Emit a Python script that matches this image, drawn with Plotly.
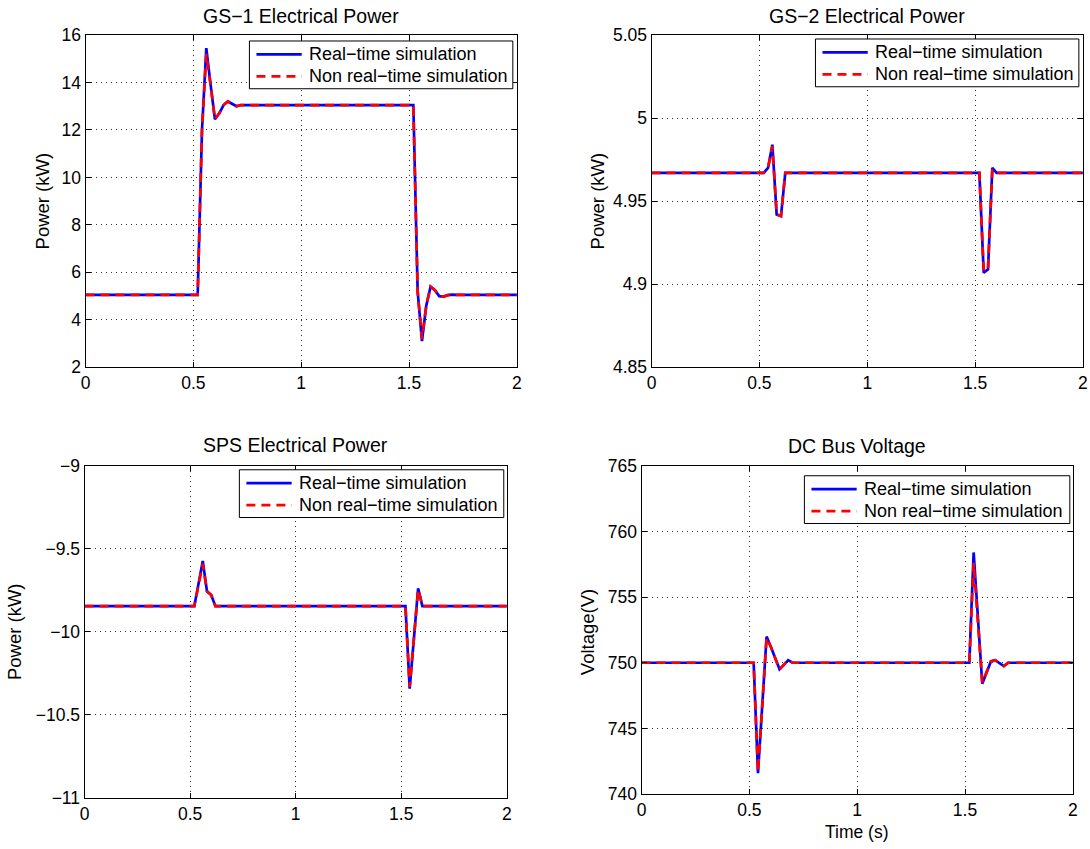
import plotly.graph_objects as go

W, H = 1090, 849
# The rendered page shows the figure slightly shrunk and offset; positions below are
# given in target window pixels and mapped back into figure pixels.
SX, OX = 0.9855, 7.9
SY, OY = 0.9815, 7.85

# ---------------- data ----------------
gs1_t = [0, 0.52, 0.54, 0.56, 0.58, 0.60, 0.62, 0.64, 0.66, 0.68, 0.70, 0.72,
         1.52, 1.54, 1.56, 1.58, 1.60, 1.62, 1.64, 1.66, 1.68, 1.70, 1.72, 2.0]
gs1_rt = [5.05, 5.05, 12.0, 15.45, 13.9, 12.45, 12.7, 13.05, 13.2, 13.1, 13.0, 13.05,
          13.05, 5.2, 3.1, 4.6, 5.4, 5.25, 5.0, 4.98, 5.04, 5.06, 5.05, 5.05]
gs1_nrt = [5.05, 5.05, 12.0, 15.2, 13.9, 12.45, 12.7, 13.05, 13.2, 13.1, 13.0, 13.05,
           13.05, 5.2, 3.2, 4.6, 5.4, 5.25, 5.0, 4.98, 5.04, 5.06, 5.05, 5.05]

gs2_t = [0, 0.52, 0.54, 0.56, 0.58, 0.60, 0.62, 1.52, 1.54, 1.56, 1.58, 1.60, 2.0]
gs2_rt = [4.967, 4.967, 4.970, 4.984, 4.942, 4.941, 4.967,
          4.967, 4.907, 4.909, 4.970, 4.967, 4.967]
gs2_nrt = [4.967, 4.967, 4.970, 4.983, 4.942, 4.941, 4.967,
           4.967, 4.908, 4.909, 4.969, 4.967, 4.967]

sps_t = [0, 0.52, 0.56, 0.58, 0.60, 0.62, 1.52, 1.54, 1.56, 1.58, 1.59, 1.60, 2.0]
sps_rt = [-9.845, -9.845, -9.573, -9.756, -9.778, -9.845,
          -9.845, -10.341, -10.04, -9.738, -9.79, -9.845, -9.845]
sps_nrt = [-9.845, -9.845, -9.59, -9.756, -9.778, -9.845,
           -9.845, -10.33, -10.04, -9.745, -9.79, -9.845, -9.845]

dc_t = [0, 0.52, 0.54, 0.58, 0.60, 0.64, 0.68, 0.70,
        1.52, 1.54, 1.58, 1.62, 1.64, 1.68, 1.70, 2.0]
dc_rt = [750, 750, 741.6, 752.0, 751.2, 749.5, 750.2, 750.0,
         750, 758.4, 748.4, 750.1, 750.2, 749.75, 750, 750]
dc_nrt = [750, 750, 741.7, 751.9, 751.2, 749.5, 750.2, 750.0,
          750, 757.6, 748.5, 750.1, 750.2, 749.75, 750, 750]

x_ticks = [0, 0.5, 1, 1.5, 2]
x_ticktext = ["0", "0.5", "1", "1.5", "2"]
gs1_yticks = [2, 4, 6, 8, 10, 12, 14, 16]
gs2_yticks = [4.85, 4.9, 4.95, 5.0, 5.05]
gs2_yticktext = ["4.85", "4.9", "4.95", "5", "5.05"]
sps_yticks = [-11, -10.5, -10, -9.5, -9]
sps_yticktext = ["\u221211", "\u221210.5", "\u221210", "\u22129.5", "\u22129"]
dc_yticks = [740, 745, 750, 755, 760, 765]

titles = ["GS\u22121 Electrical Power", "GS\u22122 Electrical Power",
          "SPS Electrical Power", "DC Bus Voltage"]
series_names = ["Real\u2212time simulation", "Non real\u2212time simulation"]
series_colors = ["#0000ff", "#ff0000"]
series_dash = ["solid", "9px,6px"]

# ---------------- layout helpers ----------------
def px(x):
    return ((x - OX) / SX) / W

def py(y):
    return 1 - ((y - OY) / SY) / H

FONT = "Liberation Sans, Arial, Helvetica, sans-serif"
TICK_SIZE = 17.5
LABEL_SIZE = 18.5
TITLE_SIZE = 19.5
LEGEND_SIZE = 18

# plot areas in window pixels: (left, right, top, bottom)
areas = [(88, 517, 33, 367), (651, 1080, 33, 367), (87, 507, 466, 800), (641, 1070, 466, 796)]

fig = go.Figure()

data = [(gs1_t, gs1_rt, gs1_nrt), (gs2_t, gs2_rt, gs2_nrt),
        (sps_t, sps_rt, sps_nrt), (dc_t, dc_rt, dc_nrt)]

for i, (t, rt, nrt) in enumerate(data):
    xa = "x" if i == 0 else f"x{i+1}"
    ya = "y" if i == 0 else f"y{i+1}"
    for k, vals in enumerate((rt, nrt)):
        fig.add_trace(go.Scatter(x=t, y=vals, mode="lines", name=series_names[k],
                                 line=dict(color=series_colors[k], width=2.7,
                                           dash=series_dash[k]),
                                 xaxis=xa, yaxis=ya, showlegend=False))

axis_common = dict(showline=True, linecolor="black", linewidth=1, mirror="allticks",
                   ticks="inside", ticklen=5, tickcolor="black", tickwidth=1,
                   showgrid=True, gridcolor="#333333", griddash="1px,4px", gridwidth=1,
                   zeroline=False, tickfont=dict(family=FONT, size=TICK_SIZE, color="black"))

yinfo = [
    dict(range=[2, 16], tickvals=gs1_yticks, ticktext=[str(v) for v in gs1_yticks]),
    dict(range=[4.85, 5.05], tickvals=gs2_yticks, ticktext=gs2_yticktext),
    dict(range=[-11, -9], tickvals=sps_yticks, ticktext=sps_yticktext),
    dict(range=[740, 765], tickvals=dc_yticks, ticktext=[str(v) for v in dc_yticks]),
]

layout_axes = {}
for i, (l, r, tp, b) in enumerate(areas):
    xk = "xaxis" if i == 0 else f"xaxis{i+1}"
    yk = "yaxis" if i == 0 else f"yaxis{i+1}"
    ya = "y" if i == 0 else f"y{i+1}"
    xa = "x" if i == 0 else f"x{i+1}"
    layout_axes[xk] = dict(axis_common, domain=[px(l), px(r)], range=[0, 2],
                           tickvals=x_ticks, ticktext=x_ticktext, anchor=ya)
    layout_axes[yk] = dict(axis_common, domain=[py(b), py(tp)], anchor=xa, **yinfo[i])

fig.update_layout(**layout_axes)

# ---------------- legends (MATLAB style boxes) ----------------
# (left, right, top) of each legend box in window pixels
leg_boxes = [(251, 513, 39), (814, 1076, 37), (241, 504, 470), (803, 1067, 476)]
shapes = []
annotations = []
for (l, r, tp) in leg_boxes:
    b = tp + 48
    shapes.append(dict(type="rect", xref="paper", yref="paper",
                       x0=px(l), x1=px(r), y0=py(b), y1=py(tp),
                       line=dict(color="black", width=1), fillcolor="white", layer="above"))
    for k in range(2):
        yc = tp + 13.5 + 22 * k
        shapes.append(dict(type="line", xref="paper", yref="paper",
                           x0=px(l + 7), x1=px(l + 52), y0=py(yc), y1=py(yc),
                           line=dict(color=series_colors[k], width=2.7,
                                     dash=series_dash[k]), layer="above"))
        annotations.append(dict(text=series_names[k], x=px(l + 57), y=py(yc),
                                xref="paper", yref="paper", showarrow=False,
                                xanchor="left", yanchor="middle",
                                font=dict(family=FONT, size=LEGEND_SIZE, color="black")))

title_pos = [(302, 14), (865, 14), (297, 445), (855, 446)]
for txt, (x, y) in zip(titles, title_pos):
    annotations.append(dict(text=txt, x=px(x), y=py(y), xref="paper", yref="paper",
                            showarrow=False, xanchor="center", yanchor="middle",
                            font=dict(family=FONT, size=TITLE_SIZE, color="black")))
ylabels = [("Power (kW)", 45, 200), ("Power (kW)", 597, 200),
           ("Power (kW)", 18, 633), ("Voltage(V)", 588, 633)]
for txt, x, y in ylabels:
    annotations.append(dict(text=txt, x=px(x), y=py(y), xref="paper", yref="paper",
                            showarrow=False, xanchor="center", yanchor="middle",
                            textangle=-90,
                            font=dict(family=FONT, size=LABEL_SIZE, color="black")))
annotations.append(dict(text="Time (s)", x=px(855), y=py(834), xref="paper", yref="paper",
                        showarrow=False, xanchor="center", yanchor="middle",
                        font=dict(family=FONT, size=17.5, color="black")))

fig.update_layout(width=W, height=H, autosize=False,
                  margin=dict(l=0, r=0, t=0, b=0),
                  paper_bgcolor="white", plot_bgcolor="white",
                  shapes=shapes, annotations=annotations, showlegend=False)

fig.write_html("out.html")
